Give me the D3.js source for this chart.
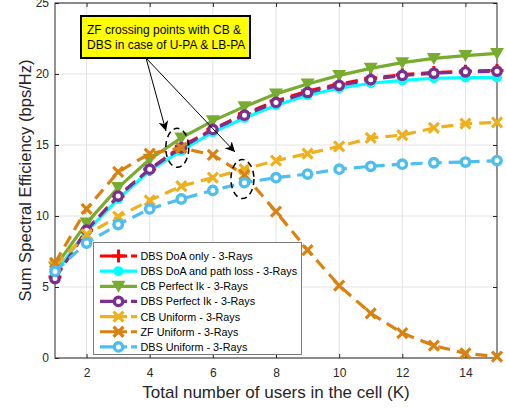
<!DOCTYPE html>
<html>
<head>
<meta charset="utf-8">
<script src="https://cdn.jsdelivr.net/npm/d3@7/dist/d3.min.js"></script>
<style>
  body { margin: 0; background: #fff; }
  text { font-family: "Liberation Sans", Arial, Helvetica, sans-serif; }
</style>
</head>
<body>
<div id="chart"></div>
<script>
// data
var users = [1, 2, 3, 4, 5, 6, 7, 8, 9, 10, 11, 12, 13, 14, 15];

var dbsDoa     = [5.7, 9.0, 11.4, 13.3, 14.9, 16.1, 17.2, 18.1, 18.8, 19.3, 19.7, 19.95, 20.1, 20.2, 20.25];
var dbsDoaPl   = [6.0, 8.9, 11.2, 13.2, 14.6, 15.9, 16.9, 17.8, 18.5, 19.0, 19.35, 19.55, 19.7, 19.75, 19.75];
var cbPerfect  = [6.4, 9.5, 12.0, 14.0, 15.5, 16.7, 17.7, 18.6, 19.3, 19.9, 20.4, 20.8, 21.1, 21.3, 21.45];
var dbsPerfect = [5.6, 9.0, 11.4, 13.3, 14.8, 16.1, 17.1, 18.0, 18.7, 19.2, 19.6, 19.9, 20.05, 20.15, 20.2];
var cbUniform  = [6.5, 8.7, 9.95, 11.1, 12.1, 12.7, 13.3, 13.9, 14.4, 14.9, 15.5, 15.7, 16.2, 16.5, 16.6];
var zfUniform  = [6.7, 10.5, 13.1, 14.4, 14.8, 14.3, 12.9, 10.3, 7.6, 5.1, 3.15, 1.75, 0.87, 0.33, 0.1];
var dbsUniform = [6.1, 8.1, 9.4, 10.5, 11.2, 11.8, 12.35, 12.7, 12.95, 13.3, 13.5, 13.65, 13.75, 13.8, 13.9];

var seriesNames = [
  "DBS DoA only - 3-Rays",
  "DBS DoA and path loss - 3-Rays",
  "CB Perfect Ik - 3-Rays",
  "DBS Perfect Ik - 3-Rays",
  "CB Uniform - 3-Rays",
  "ZF Uniform - 3-Rays",
  "DBS Uniform - 3-Rays"
];

var xTicks = [2, 4, 6, 8, 10, 12, 14];
var yTicks = [0, 5, 10, 15, 20, 25];

var noteLines = ["ZF crossing points with CB &", "DBS in case of U-PA & LB-PA"];

// styles
var series = [
  {values: dbsDoa,     color: "#ff0000", dash: "12,7", marker: "plus"},
  {values: dbsDoaPl,   color: "#00ffff", dash: null,   marker: "dot"},
  {values: cbPerfect,  color: "#77ac30", dash: null,   marker: "tri"},
  {values: dbsPerfect, color: "#7e2f8e", dash: "12,7", marker: "ring"},
  {values: cbUniform,  color: "#edb120", dash: "12,7", marker: "cross"},
  {values: zfUniform,  color: "#d98212", dash: "12,7", marker: "cross"},
  {values: dbsUniform, color: "#4dbeee", dash: "12,7", marker: "ring"}
];
series.forEach(function(s, i){ s.name = seriesNames[i]; });

var W = 506, H = 408;
var margin = {top: 3, right: 9, bottom: 50, left: 55};
var width = W - margin.left - margin.right,
    height = H - margin.top - margin.bottom;

var svg = d3.select("#chart").append("svg")
    .attr("width", W).attr("height", H);
var g = svg.append("g")
    .attr("transform", "translate(" + margin.left + "," + margin.top + ")");

var xScale = d3.scaleLinear().domain([1, 15]).range([0, width]);
var yScale = d3.scaleLinear().domain([0, 25]).range([height, 0]);

// grid
g.append("g").selectAll("line").data(xTicks).enter().append("line")
  .attr("x1", d => xScale(d)).attr("x2", d => xScale(d))
  .attr("y1", 0).attr("y2", height)
  .attr("stroke", "#e3e3e3").attr("stroke-width", 1);
g.append("g").selectAll("line").data(yTicks).enter().append("line")
  .attr("y1", d => yScale(d)).attr("y2", d => yScale(d))
  .attr("x1", 0).attr("x2", width)
  .attr("stroke", "#e3e3e3").attr("stroke-width", 1);

// axes (ticks inward, box on)
var axisColor = "#262626";
function styleAxis(sel, showText) {
  sel.select(".domain").remove();
  sel.selectAll(".tick line").attr("stroke", axisColor);
  sel.selectAll(".tick text")
    .attr("fill", axisColor)
    .style("font-size", "12px")
    .style("display", showText ? null : "none");
}
g.append("g").attr("transform", "translate(0," + height + ")")
  .call(d3.axisBottom(xScale).tickValues(xTicks).tickSizeInner(-4).tickSizeOuter(0).tickPadding(10))
  .call(sel => styleAxis(sel, true));
g.append("g")
  .call(d3.axisTop(xScale).tickValues(xTicks).tickSizeInner(-4).tickSizeOuter(0))
  .call(sel => styleAxis(sel, false));
g.append("g")
  .call(d3.axisLeft(yScale).tickValues(yTicks).tickSizeInner(-4).tickSizeOuter(0).tickPadding(6))
  .call(sel => styleAxis(sel, true));
g.append("g").attr("transform", "translate(" + width + ",0)")
  .call(d3.axisRight(yScale).tickValues(yTicks).tickSizeInner(-4).tickSizeOuter(0))
  .call(sel => styleAxis(sel, false));

g.append("rect").attr("width", width).attr("height", height)
  .attr("fill", "none").attr("stroke", axisColor).attr("stroke-width", 1);

// markers
function drawMarker(sel, type, color) {
  if (type === "plus") {
    sel.append("path").attr("d", "M-6.5,0H6.5M0,-6.5V6.5")
      .attr("stroke", color).attr("stroke-width", 3).attr("fill", "none");
  } else if (type === "cross") {
    sel.append("path").attr("d", "M-5,-5L5,5M-5,5L5,-5")
      .attr("stroke", color).attr("stroke-width", 3.2).attr("fill", "none");
  } else if (type === "dot") {
    sel.append("circle").attr("r", 5).attr("fill", color);
  } else if (type === "ring") {
    sel.append("circle").attr("r", 4.2).attr("fill", "#fff")
      .attr("stroke", color).attr("stroke-width", 3.4);
  } else if (type === "tri") {
    sel.append("path").attr("d", "M-7,-5.5L7,-5.5L0,6.5Z").attr("fill", color);
  }
}

var line = d3.line()
  .x((d, i) => xScale(users[i]))
  .y(d => yScale(d));

var plot = g.append("g");
series.forEach(function(s) {
  plot.append("path")
    .datum(s.values)
    .attr("fill", "none")
    .attr("stroke", s.color)
    .attr("stroke-width", 3.2)
    .attr("stroke-dasharray", s.dash)
    .attr("d", line);
  plot.append("g").selectAll("g").data(s.values).enter().append("g")
    .attr("transform", (d, i) => "translate(" + xScale(users[i]) + "," + yScale(d) + ")")
    .each(function() { drawMarker(d3.select(this), s.marker, s.color); });
});

// dashed ellipses around crossing points
var crossings = [{x: 5, y: 14.8, dx: -4}, {x: 7, y: 12.6, dx: -2}];
g.selectAll(".ring-mark").data(crossings).enter().append("ellipse")
  .attr("cx", d => xScale(d.x) + d.dx)
  .attr("cy", d => yScale(d.y))
  .attr("rx", 11.5).attr("ry", 19.5)
  .attr("fill", "none").attr("stroke", "#000").attr("stroke-width", 1.5)
  .attr("stroke-dasharray", "6,4");

// axis labels
svg.append("text")
  .attr("x", margin.left + width / 2).attr("y", 398)
  .attr("text-anchor", "middle").attr("fill", axisColor)
  .style("font-size", "17px")
  .text("Total number of users in the cell (K)");
svg.append("text")
  .attr("transform", "translate(31," + (margin.top + height / 2) + ") rotate(-90)")
  .attr("text-anchor", "middle").attr("fill", axisColor)
  .style("font-size", "16.6px")
  .text("Sum Spectral Efficiency (bps/Hz)");

// legend
var lg = svg.append("g");
lg.append("rect").attr("x", 93.5).attr("y", 242.5).attr("width", 208).attr("height", 112)
  .attr("fill", "#fff").attr("stroke", "#7a7a7a").attr("stroke-width", 1);
series.forEach(function(s, i) {
  var yy = 256 + i * 15.15;
  var row = lg.append("g");
  row.append("line").attr("x1", 100).attr("x2", 137).attr("y1", yy).attr("y2", yy)
    .attr("stroke", s.color).attr("stroke-width", 3.2)
    .attr("stroke-dasharray", s.dash ? "27,4,7" : null);
  drawMarker(row.append("g").attr("transform", "translate(118.5," + yy + ")"), s.marker, s.color);
  row.append("text").attr("x", 140.5).attr("y", yy + 4)
    .attr("fill", "#000").style("font-size", "10.8px").text(s.name);
});

// annotation
var note = svg.append("g");
var arrowStart = [146, 58];
var arrowTips = [[166, 131], [235, 152]];
svg.append("defs").append("marker")
  .attr("id", "ah").attr("viewBox", "-10 -6 12 12")
  .attr("refX", 0).attr("refY", 0)
  .attr("markerWidth", 12).attr("markerHeight", 12)
  .attr("markerUnits", "userSpaceOnUse")
  .attr("orient", "auto")
  .append("path").attr("d", "M-10,-5L0,0L-10,5L-7,0Z").attr("fill", "#000");
arrowTips.forEach(function(t) {
  note.append("line")
    .attr("x1", arrowStart[0]).attr("y1", arrowStart[1])
    .attr("x2", t[0]).attr("y2", t[1])
    .attr("stroke", "#000").attr("stroke-width", 1)
    .attr("marker-end", "url(#ah)");
});
note.append("rect").attr("x", 81).attr("y", 16).attr("width", 169).attr("height", 42)
  .attr("fill", "#ffff00").attr("stroke", "#000").attr("stroke-width", 2);
noteLines.forEach(function(t, i) {
  note.append("text").attr("x", 87).attr("y", 34 + i * 15)
    .attr("fill", "#000").style("font-size", "12px").text(t);
});
</script>
</body>
</html>
